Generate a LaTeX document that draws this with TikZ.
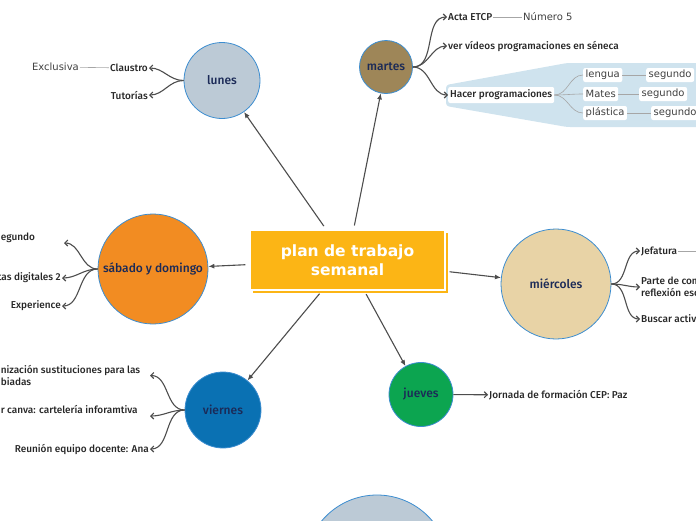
\documentclass[tikz,border=0pt]{standalone}
\usepackage{fontspec}
\setmainfont{DejaVu Sans}
\newfontfamily\labelfont{Fira Sans Medium}
\usetikzlibrary{arrows.meta,shadows}

\definecolor{hubfill}{HTML}{FCB515}
\definecolor{ringblue}{HTML}{3C8DD0}
\definecolor{dayink}{HTML}{1B2A57}
\definecolor{lunesfill}{HTML}{BCCAD6}
\definecolor{martesfill}{HTML}{9E8658}
\definecolor{miercfill}{HTML}{E8D3A6}
\definecolor{juevesfill}{HTML}{0CA550}
\definecolor{viernesfill}{HTML}{0A71B3}
\definecolor{sabadofill}{HTML}{F28C22}
\definecolor{calloutfill}{HTML}{CFE3EE}
\definecolor{linkgray}{HTML}{4D4D4D}
\definecolor{twiggray}{HTML}{A6A6A6}

\tikzset{
  day/.style={circle, draw=ringblue, line width=0.8pt, minimum size=#1, inner sep=0pt,
    text=dayink, font=\labelfont\fontsize{12}{14}\selectfont},
  leaf/.style={inner sep=1pt, text=black!85, font=\labelfont\fontsize{10}{12.5}\selectfont},
  tag/.style={inner sep=1pt, text=black!75, font=\fontsize{10}{12}\selectfont},
  tagbox/.style={tag, fill=white, rounded corners=2pt, inner xsep=2.5pt, minimum height=14pt},
  link/.style={draw=linkgray, line width=1.1pt, -{Latex[length=6pt,width=5pt]}, shorten <=4pt},
  branch/.style={draw=linkgray, line width=1.1pt, -{Straight Barb[length=3pt,width=6pt]}},
  twig/.style={draw=twiggray, line width=0.6pt},
}

\begin{document}
\begin{tikzpicture}[x=1pt,y=-1pt]
\useasboundingbox (0,0) rectangle (696,520);

% callout behind Hacer programaciones
\fill[calloutfill, rounded corners=3pt] (446,85) -- (567,63) -- (705,63) -- (705,127) -- (567,127) -- (446,106) -- cycle;

% centre
\node[fill=hubfill, draw=white, line width=1.2pt, minimum width=195pt, minimum height=60pt,
  align=center, text=white, font=\bfseries\fontsize{15.5}{19}\selectfont,
  drop shadow={shadow xshift=2.5pt, shadow yshift=-2.5pt, fill=hubfill, opacity=1}]
  (plan) at (347.5,260) {plan de trabajo\\semanal};

% days
\node[day=76pt, fill=lunesfill] (lunes) at (222,80.5) {lunes};
\node[day=53pt, fill=martesfill] (martes) at (386,67) {martes};
\node[day=110pt, fill=miercfill] (miercoles) at (556,284) {miércoles};
\node[day=64pt, fill=juevesfill] (jueves) at (421,394.5) {jueves};
\node[day=76pt, fill=viernesfill] (viernes) at (223,410) {viernes};
\node[day=110pt, fill=sabadofill] (sabado) at (153,269) {sábado y domingo};
\node[day=144pt, fill=lunesfill] (extra) at (377,567) {};

\draw[link] (plan) -- (lunes);
\draw[link] (plan) -- (martes);
\draw[link] (plan) -- (miercoles);
\draw[link] (plan) -- (jueves);
\draw[link] (plan) -- (viernes);
\draw[link] (plan) -- (sabado);

% lunes
\node[leaf, anchor=east] (claustro) at (149,68) {Claustro};
\node[leaf, anchor=east] (tutorias) at (149,95) {Tutorías};
\node[tag, anchor=east] (exclusiva) at (80,67) {Exclusiva};
\draw[branch] (lunes.west) to[out=180,in=0] (claustro.east);
\draw[branch] (lunes.west) to[out=180,in=0] (tutorias.east);
\draw[twig] (claustro) -- (exclusiva);

% martes
\node[leaf, anchor=west] (acta) at (447,17) {Acta ETCP};
\node[tag, anchor=west] (numero) at (522,17) {Número 5};
\node[leaf, anchor=west] (videos) at (447,46) {ver vídeos programaciones en séneca};
\node[leaf, fill=white, rounded corners=2pt, inner xsep=2pt, minimum height=16pt, anchor=west]
  (hacer) at (448,95) {Hacer programaciones};
\node[tagbox, anchor=west] (lengua) at (583,75) {lengua};
\node[tagbox, anchor=west] (segA) at (646,75) {segundo};
\node[tagbox, anchor=west] (mates) at (583,94) {Mates};
\node[tagbox, anchor=west] (segB) at (639,94) {segundo};
\node[tagbox, anchor=west] (plastica) at (583,113) {plástica};
\node[tagbox, anchor=west] (segC) at (651,113) {segundo};
\draw[branch] (martes.east) to[out=0,in=180] (acta.west);
\draw[branch] (martes.east) to[out=0,in=180] (videos.west);
\draw[branch] (martes.east) to[out=0,in=180] (hacer.west);
\draw[twig] (acta) -- (numero);
\draw[twig] (hacer.east) to[out=0,in=180] (lengua.west);
\draw[twig] (hacer.east) to[out=0,in=180] (mates.west);
\draw[twig] (hacer.east) to[out=0,in=180] (plastica.west);
\draw[twig] (lengua) -- (segA);
\draw[twig] (mates) -- (segB);
\draw[twig] (plastica) -- (segC);

% miercoles
\node[leaf, anchor=west] (jefatura) at (640,251) {Jefatura};
\coordinate (jefend) at (700,251);
\node[leaf, anchor=west, align=left] (parte) at (640,287) {Parte de com\\reflexión esc};
\node[leaf, anchor=west] (buscar) at (640,319) {Buscar activ};
\draw[branch] (miercoles.east) to[out=0,in=180] (jefatura.west);
\draw[branch] (miercoles.east) to[out=0,in=180] (parte.west);
\draw[branch] (miercoles.east) to[out=0,in=180] (buscar.west);
\draw[twig] (jefatura) -- (jefend);

% jueves
\node[leaf, anchor=west] (jornada) at (488,395) {Jornada de formación CEP: Paz};
\draw[branch] (jueves) -- (jornada);

% viernes
\node[leaf, anchor=east, align=flush left, text width=148pt] (sustit) at (150,375.5) {nización sustituciones para las\\biadas};
\node[leaf, anchor=east, align=flush left, text width=148pt] (canva) at (150,416) {r canva: cartelería inforamtiva\\\mbox{}};
\node[leaf, anchor=east] (reunion) at (150,449) {Reunión equipo docente: Ana};
\draw[branch] (viernes.west) to[out=180,in=0] (sustit.east);
\draw[branch] (viernes.west) to[out=180,in=0] (canva.east);
\draw[branch] (viernes.west) to[out=180,in=0] (reunion.east);

% sabado y domingo
\node[leaf, anchor=east, align=flush left, text width=62pt] (segundo) at (64,243) {egundo\\\mbox{}};
\node[leaf, anchor=east] (digitales) at (62,278) {tas digitales 2};
\node[leaf, anchor=east] (experience) at (62,306) {Experience};
\draw[branch] (sabado.west) to[out=180,in=0] (segundo.east);
\draw[branch] (sabado.west) to[out=180,in=0] (digitales.east);
\draw[branch] (sabado.west) to[out=180,in=0] (experience.east);
\end{tikzpicture}
\end{document}
